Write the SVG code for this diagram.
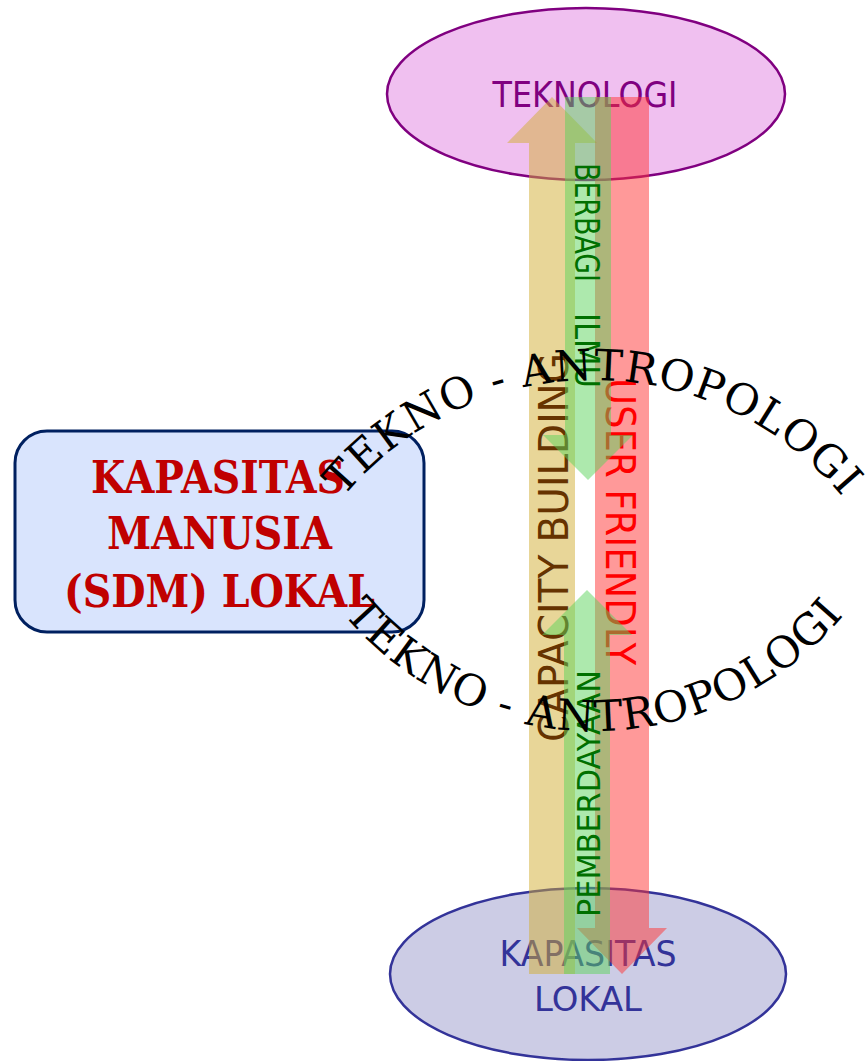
<svg xmlns="http://www.w3.org/2000/svg" width="865" height="1061" viewBox="0 0 865 1061">
<style>
.sans{font-family:"DejaVu Sans","Liberation Sans",sans-serif;}
.arc{font-family:"DejaVu Serif","Liberation Serif",serif;font-size:43px;fill:#000;letter-spacing:1px;}
.box{font-family:"DejaVu Serif","Liberation Serif",serif;font-weight:bold;font-size:45px;fill:#c00000;}
.tan{fill:rgb(209,173,49);fill-opacity:0.5;}
.grn{fill:rgb(91,211,91);fill-opacity:0.5;}
.red{fill:rgb(255,51,51);fill-opacity:0.5;}
</style>
<defs>
<path id="arcTop" d="M298.5,567.7 A325,325 0 0 1 887.5,567.7"/>
<path id="arcBot" d="M297.6,542.2 A327,327 0 0 0 890.4,542.2"/>
</defs>
<g id="node-teknologi">
<ellipse cx="586" cy="94" rx="199" ry="86" fill="#f0c0f0" stroke="#800080" stroke-width="2.5"/>
<text class="sans" x="585" y="107" font-size="35" fill="#800080" text-anchor="middle" textLength="185" lengthAdjust="spacingAndGlyphs">TEKNOLOGI</text>
</g>
<g id="node-kapasitas-lokal">
<ellipse cx="588" cy="974" rx="198" ry="86" fill="#ccccE5" stroke="#333399" stroke-width="2.5"/>
<text class="sans" x="588" y="966" font-size="35" fill="#333399" text-anchor="middle" textLength="177" lengthAdjust="spacingAndGlyphs">KAPASITAS</text>
<text class="sans" x="588" y="1011" font-size="34" fill="#333399" text-anchor="middle" textLength="108" lengthAdjust="spacingAndGlyphs">LOKAL</text>
</g>
<g id="node-sdm">
<rect x="15" y="431" width="409" height="201" rx="32" ry="32" fill="#d9e4fd" stroke="#002060" stroke-width="3"/>
<text class="box" x="218" y="493" text-anchor="middle" textLength="254" lengthAdjust="spacingAndGlyphs">KAPASITAS</text>
<text class="box" x="219.5" y="549" text-anchor="middle" textLength="225" lengthAdjust="spacingAndGlyphs">MANUSIA</text>
<text class="box" x="219.5" y="607" text-anchor="middle" textLength="311" lengthAdjust="spacingAndGlyphs">(SDM) LOKAL</text>
</g>
<g id="connectors">
<g id="capacity-building">
<path class="tan" d="M529,974 L529,143 L507,143 L552,97 L597,143 L575,143 L575,974 Z"/>
<text class="sans" transform="translate(568,547.5) rotate(-90)" font-size="41" fill="#663300" text-anchor="middle" textLength="389" lengthAdjust="spacingAndGlyphs">CAPACITY BUILDING</text>
</g>
<g id="user-friendly">
<path class="red" d="M595,97 L649,97 L649,928 L667,928 L622,974 L577,928 L595,928 Z"/>
<text class="sans" transform="translate(606,521.5) rotate(90)" font-size="41" fill="#ff0000" text-anchor="middle" textLength="287" lengthAdjust="spacingAndGlyphs">USER FRIENDLY</text>
</g>
<g id="berbagi-ilmu">
<path class="grn" d="M565,97 L611,97 L611,435 L633,435 L588,480 L543,435 L565,435 Z"/>
<text class="sans" transform="translate(575,163) rotate(90)" font-size="33" fill="#007000"><tspan x="0" textLength="119" lengthAdjust="spacingAndGlyphs">BERBAGI</tspan><tspan x="150" textLength="75" lengthAdjust="spacingAndGlyphs">ILMU</tspan></text>
</g>
<g id="pemberdayaan">
<path class="grn" d="M564,974 L564,635 L542,635 L587,590 L632,635 L610,635 L610,974 Z"/>
<text class="sans" transform="translate(600,793.5) rotate(-90)" font-size="32" fill="#007000" text-anchor="middle" textLength="247" lengthAdjust="spacingAndGlyphs">PEMBERDAYAAN</text>
</g>
</g>
<g id="tekno-antropologi">
<text class="arc"><textPath href="#arcTop" startOffset="50%" text-anchor="middle">TEKNO - ANTROPOLOGI</textPath></text>
<text class="arc"><textPath href="#arcBot" startOffset="50%" text-anchor="middle">TEKNO - ANTROPOLOGI</textPath></text>
</g>
</svg>
